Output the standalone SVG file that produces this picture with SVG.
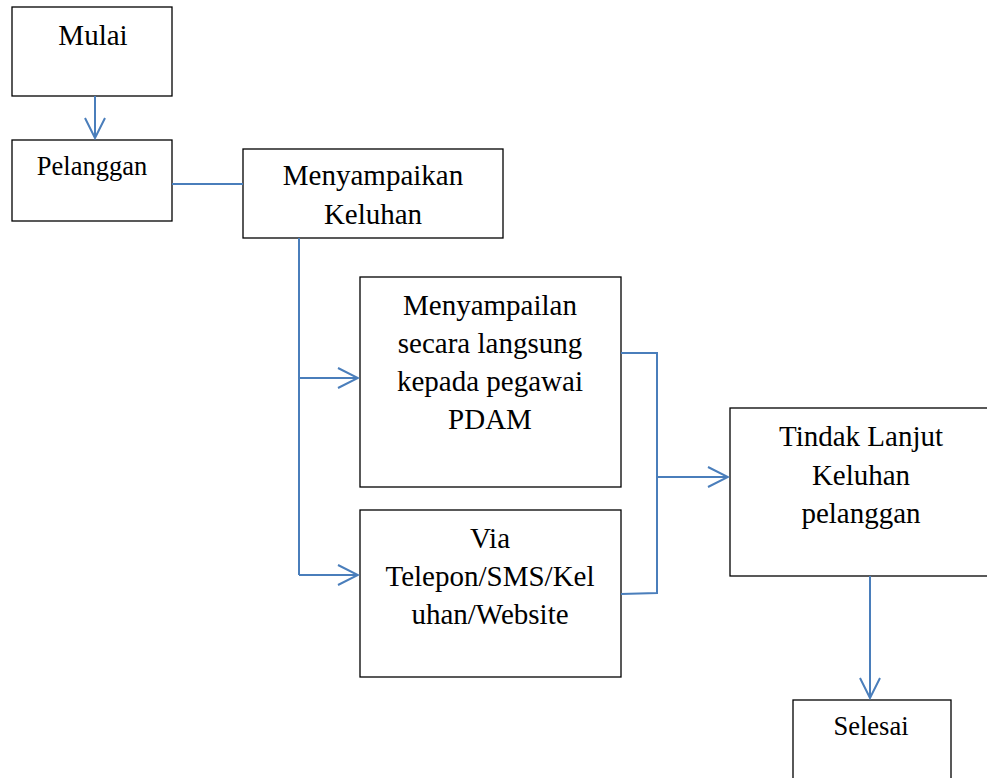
<svg xmlns="http://www.w3.org/2000/svg" width="987" height="778" viewBox="0 0 987 778">
<style>
.box{fill:#fff;stroke:#000;stroke-width:1.3}
text{font-family:'Liberation Serif','Times New Roman','DejaVu Serif',serif;fill:#000;text-anchor:middle}
.l{font-size:29px}
.s{font-size:26.5px}
.c{fill:none;stroke:#4a7ebb;stroke-width:2}
</style>
<defs>
<marker id="b" markerWidth="24" markerHeight="24" viewBox="0 0 24 24" refX="22" refY="12" orient="auto" markerUnits="userSpaceOnUse">
<path d="M2 2 L22 12 L2 22" fill="none" stroke="#4a7ebb" stroke-width="2"/>
</marker>
</defs>
<g id="mulai"><rect class="box" x="12" y="7" width="160" height="89"/><text class="l" x="93" y="45">Mulai</text></g>
<g id="pelanggan"><rect class="box" x="12" y="140" width="160" height="81"/><text class="s" x="92" y="175">Pelanggan</text></g>
<g id="menyampaikan"><rect class="box" x="243" y="149" width="260" height="89"/><text class="l" x="373" y="185">Menyampaikan</text><text class="l" x="373" y="224">Keluhan</text></g>
<g id="langsung"><rect class="box" x="360" y="277" width="261" height="210"/><text class="l" x="490" y="315">Menyampailan</text><text class="l" x="490" y="353">secara langsung</text><text class="l" x="490" y="391">kepada pegawai</text><text class="l" x="490" y="429">PDAM</text></g>
<g id="via"><rect class="box" x="360" y="510" width="261" height="167"/><text class="l" x="490" y="548">Via</text><text class="l" x="490" y="586">Telepon/SMS/Kel</text><text class="l" x="490" y="624">uhan/Website</text></g>
<g id="tindak"><rect class="box" x="730" y="408" width="260" height="168"/><text class="l" x="861" y="446">Tindak Lanjut</text><text class="l" x="861" y="485">Keluhan</text><text class="l" x="861" y="523">pelanggan</text></g>
<g id="selesai"><rect class="box" x="793" y="700" width="158" height="90"/><text class="s" x="871" y="735">Selesai</text></g>
<g id="connectors">
<path class="c" d="M95 96 V138" marker-end="url(#b)"/>
<path class="c" d="M172 184 H243"/>
<path class="c" d="M299 238 V575"/>
<path class="c" d="M299 378 H358" marker-end="url(#b)"/>
<path class="c" d="M299 575 H358" marker-end="url(#b)"/>
<path class="c" d="M621 353 H657 V593 L621 594"/>
<path class="c" d="M657 477 H728" marker-end="url(#b)"/>
<path class="c" d="M870 576 V698" marker-end="url(#b)"/>
</g>
</svg>
